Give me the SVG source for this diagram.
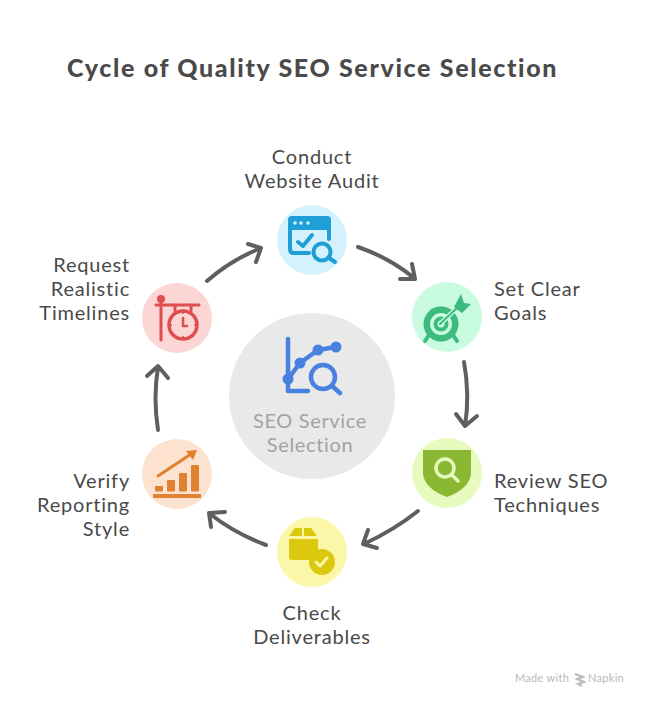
<svg xmlns="http://www.w3.org/2000/svg" width="648" height="706" viewBox="0 0 648 706">
<style>
text{font-family:"Lato","Noto Sans","Liberation Sans",sans-serif;fill:#4a4a4a;font-size:20px;letter-spacing:.8px}
.title{font-size:25px;font-weight:900;letter-spacing:1.65px}
.c{text-anchor:middle}.e{text-anchor:end}
.sub{fill:#a3a3a3;letter-spacing:.65px}
.foot{font-size:11px;fill:#b9b9b9;letter-spacing:.3px}
.conn path{fill:none;stroke:#5f5f5f;stroke-width:4;stroke-linecap:round;stroke-linejoin:round}
.line{fill:none;stroke-linecap:round;stroke-linejoin:round}
</style>
<rect width="648" height="706" fill="#fff"/>
<text class="title" x="67" y="77">Cycle of Quality SEO Service Selection</text>
<g class="conn" id="connectors">
<path d="M358 247Q390 258 414 278M412 264L415 279L400 279"/>
<path d="M464 362Q470 395 465 426M456 414L465 426L477 416"/>
<path d="M418 511Q394 530 364 544M368 530L363 544L377 548"/>
<path d="M266 545Q236 534 210 514M225 512L209 513L211 527"/>
<path d="M158 430Q153 398 158 367M147 376L158 366L168 378"/>
<path d="M207 281Q231 260 261 248M248 244L261 248L256 262"/>
</g>
<g id="center">
<circle cx="312" cy="396" r="83" fill="#e9e9e9"/>
<g class="line" stroke="#4a80df" stroke-width="4.5">
<path d="M288 339V391H308"/>
<path d="M288 379L300 363L318 350L336 347"/>
<circle cx="323" cy="377" r="12"/>
<path d="M332 386L340 393"/>
</g>
<g fill="#4a80df"><circle cx="288" cy="379" r="5.5"/><circle cx="300" cy="363" r="5.5"/><circle cx="318" cy="350" r="5.5"/><circle cx="336" cy="347" r="5.5"/></g>
<text class="c sub" x="310" y="428">SEO Service</text>
<text class="c sub" x="310" y="452">Selection</text>
</g>
<g id="node-audit">
<circle cx="312" cy="240" r="35" fill="#d3f2fd"/>
<path d="M292 216H327Q331 216 331 220V230H288V220Q288 216 292 216Z" fill="#1f9fd6"/>
<g class="line" stroke="#1f9fd6" stroke-width="4">
<path d="M290 230V249Q290 253 294 253H309M329 230V239"/>
<path d="M298 242L303 246L312 235"/>
<circle cx="322" cy="252" r="8.5"/>
<path d="M329 258L335 262"/>
</g>
<g fill="#d3f2fd"><circle cx="295" cy="223" r="1.8"/><circle cx="301" cy="223" r="1.8"/><circle cx="308" cy="223" r="1.8"/></g>
<text class="c" x="312" y="164">Conduct</text>
<text class="c" x="312" y="188">Website Audit</text>
</g>
<g id="node-goals">
<circle cx="447" cy="317" r="35" fill="#c9fbe1"/>
<path d="M429 335L425 341M453 335L457 341" class="line" stroke="#3dbb7e" stroke-width="4"/>
<circle cx="441" cy="324" r="17.5" fill="#3dbb7e"/>
<circle cx="441" cy="324" r="11" fill="#c9fbe1"/>
<circle cx="441" cy="324" r="7.5" fill="#3dbb7e"/>
<circle cx="441" cy="324" r="3.5" fill="#c9fbe1"/>
<path d="M440 324L458 307" class="line" stroke="#c9fbe1" stroke-width="4.5"/>
<path d="M440 324L458 307" class="line" stroke="#3dbb7e" stroke-width="2"/>
<path d="M454 307L461 294L464 303L471 304L462 313Z" fill="#3dbb7e"/>
<text x="494" y="296">Set Clear</text>
<text x="494" y="320">Goals</text>
</g>
<g id="node-techniques">
<circle cx="447" cy="473" r="35" fill="#e6fbbd"/>
<path d="M423 450H471V474Q469 489 447 497Q425 489 423 474Z" fill="#8ab832"/>
<g class="line" stroke="#e6fbbd" stroke-width="3.5">
<circle cx="445" cy="468" r="9"/>
<path d="M452 475L458 481"/>
</g>
<text x="494" y="488">Review SEO</text>
<text x="494" y="512">Techniques</text>
</g>
<g id="node-deliverables">
<circle cx="312" cy="552" r="35" fill="#fbf6a8"/>
<path d="M289 536L295 528H302V536ZM304 528H311L317 536H304ZM289 539H318V556A13 13 0 0 0 311 560H292Q289 560 289 557Z" fill="#dbc90f"/>
<circle cx="322" cy="562" r="13" fill="#dbc90f"/>
<path d="M316 562L320 566L327 558" class="line" stroke="#fbf6a8" stroke-width="3"/>
<text class="c" x="312" y="620">Check</text>
<text class="c" x="312" y="644">Deliverables</text>
</g>
<g id="node-reporting">
<circle cx="177" cy="474" r="35" fill="#fde2d0"/>
<g fill="#e0812f">
<rect x="153" y="494" width="48" height="4"/>
<rect x="155" y="486" width="8" height="5.5" rx="1"/>
<rect x="167" y="480" width="8" height="11.5" rx="1"/>
<rect x="179" y="473" width="8" height="18.5" rx="1"/>
<rect x="191" y="465" width="8" height="26.5" rx="1"/>
<path d="M186 451L197 450L193 460Z"/>
</g>
<path d="M158 476L191 454" class="line" stroke="#e0812f" stroke-width="3"/>
<text class="e" x="130" y="488">Verify</text>
<text class="e" x="130" y="512">Reporting</text>
<text class="e" x="130" y="536">Style</text>
</g>
<g id="node-timelines">
<circle cx="177" cy="318" r="35" fill="#fcd5d5"/>
<g class="line" stroke="#dd4f4f">
<path d="M161 300V340M156 305H199" stroke-width="3"/>
<path d="M175 305V311M191 305V311" stroke-width="3"/>
<circle cx="183" cy="325" r="14" stroke-width="3.5"/>
<path d="M183 318V326H187" stroke-width="2.5"/>
<path d="M183 311V313M183 337V339M169 325H171M195 325H197" stroke-width="2"/>
</g>
<circle cx="161" cy="299" r="4" fill="#dd4f4f"/>
<text class="e" x="130" y="272">Request</text>
<text class="e" x="130" y="296">Realistic</text>
<text class="e" x="130" y="320">Timelines</text>
</g>
<g id="footer">
<text class="foot" x="515" y="682">Made with</text>
<path d="M575 674L583 677L577 679L584 682L578 684L582 686" fill="none" stroke="#b9b9b9" stroke-width="2"/>
<text class="foot" x="588" y="682">Napkin</text>
</g>
</svg>
